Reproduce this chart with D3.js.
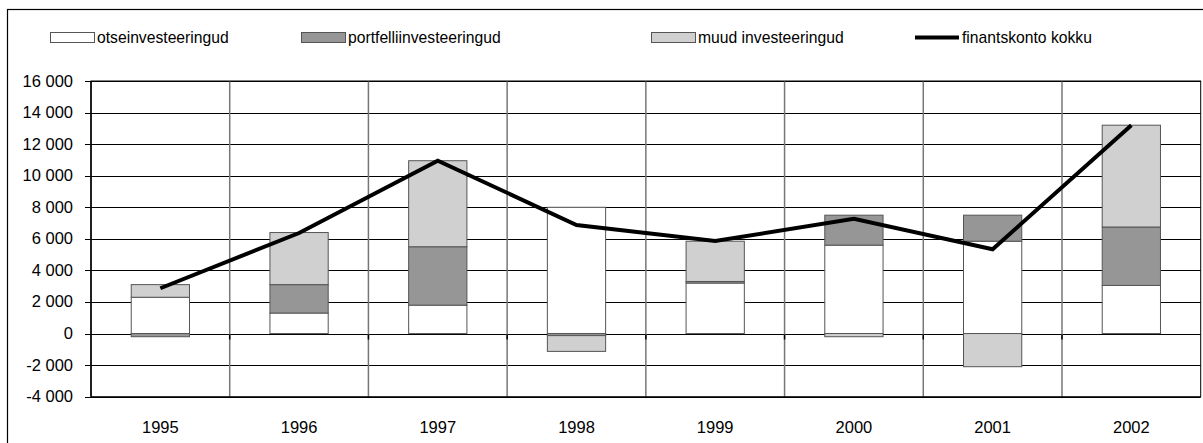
<!DOCTYPE html>
<html>
<head>
<meta charset="utf-8">
<script src="https://cdn.jsdelivr.net/npm/d3@7"></script>
<style>
body { margin: 0; background: #fff; }
text { font-family: Arial, "Liberation Sans", sans-serif; fill: #000; }
</style>
</head>
<body>
<svg></svg>
<script>
let years = ["1995", "1996", "1997", "1998", "1999", "2000", "2001", "2002"]
let otse = [2300, 1300, 1800, 8000, 3200, 5600, 5850, 3050]
let portf = [-200, 1800, 3700, -130, 100, 1900, 1650, 3700]
let muud = [800, 3300, 5450, -1000, 2550, -200, -2100, 6450]
let kokku = [2870, 6370, 10950, 6880, 5860, 7270, 5340, 13200]
let yTicks = [-4000, -2000, 0, 2000, 4000, 6000, 8000, 10000, 12000, 14000, 16000]
let names = ["otseinvesteeringud", "portfelliinvesteeringud", "muud investeeringud", "finantskonto kokku"]
let colors = ["#ffffff", "#969696", "#d0d0d0"]

let width = 1203
let height = 443
let plotLeft = 91
let plotRight = 1200.7
let plotTop = 81
let plotBottom = 396.7

let svg = d3.select("svg").attr("width", width).attr("height", height)

let fmt = d3.formatLocale({ decimal: ",", thousands: " ", grouping: [3], currency: ["", ""], minus: "-" }).format(",d")

let xScale = d3.scaleBand().domain(years).range([plotLeft, plotRight])
let yScale = d3.scaleLinear().domain([-4000, 16000]).range([plotBottom, plotTop])

let rows = years.map((y, i) => ({ year: y, otse: otse[i], portf: portf[i], muud: muud[i] }))
let stacked = d3.stack()
  .keys(["otse", "portf", "muud"])
  .offset(d3.stackOffsetDiverging)(rows)

// outer frame
svg.append("rect")
  .attr("x", 7.5).attr("y", 9.5)
  .attr("width", 1220).attr("height", 460)
  .attr("fill", "none").attr("stroke", "#000").attr("stroke-width", 1.2)

// horizontal grid
svg.append("g")
  .selectAll("line")
  .data(yTicks)
  .enter()
  .append("line")
  .attr("x1", plotLeft).attr("x2", plotRight)
  .attr("y1", d => Math.round(yScale(d)) + 0.5)
  .attr("y2", d => Math.round(yScale(d)) + 0.5)
  .attr("stroke", "#000").attr("stroke-width", 1)

// category separators
svg.append("g")
  .selectAll("line")
  .data(years.slice(1))
  .enter()
  .append("line")
  .attr("x1", d => xScale(d)).attr("x2", d => xScale(d))
  .attr("y1", plotTop).attr("y2", plotBottom)
  .attr("stroke", "#777").attr("stroke-width", 1.5)

// bars
let barW = xScale.bandwidth() * 0.42
svg.append("g")
  .selectAll("g")
  .data(stacked)
  .enter()
  .append("g")
  .attr("fill", (d, i) => colors[i])
  .selectAll("rect")
  .data(d => d)
  .enter()
  .append("rect")
  .attr("x", d => xScale(d.data.year) + (xScale.bandwidth() - barW) / 2)
  .attr("width", barW)
  .attr("y", d => yScale(Math.max(d[0], d[1])))
  .attr("height", d => Math.abs(yScale(d[0]) - yScale(d[1])))
  .attr("stroke", "#555").attr("stroke-width", 1)

// axes frame
let y0 = Math.round(yScale(0)) + 0.5
svg.append("g")
  .selectAll("line")
  .data(years.slice(1))
  .enter()
  .append("line")
  .attr("x1", d => xScale(d)).attr("x2", d => xScale(d))
  .attr("y1", y0).attr("y2", y0 + 5)
  .attr("stroke", "#000").attr("stroke-width", 1.5)

svg.append("rect")
  .attr("x", plotLeft).attr("y", plotTop)
  .attr("width", plotRight - plotLeft).attr("height", plotBottom - plotTop)
  .attr("fill", "none").attr("stroke", "#000").attr("stroke-width", 1)

svg.append("line")
  .attr("x1", plotLeft).attr("x2", plotLeft)
  .attr("y1", plotTop).attr("y2", plotBottom)
  .attr("stroke", "#000").attr("stroke-width", 1.5)

// y ticks and labels
svg.append("g")
  .selectAll("line")
  .data(yTicks)
  .enter()
  .append("line")
  .attr("x1", plotLeft - 6).attr("x2", plotLeft)
  .attr("y1", d => Math.round(yScale(d)) + 0.5)
  .attr("y2", d => Math.round(yScale(d)) + 0.5)
  .attr("stroke", "#000")

svg.append("g")
  .selectAll("text")
  .data(yTicks)
  .enter()
  .append("text")
  .attr("x", 73)
  .attr("y", d => yScale(d) + 5.5)
  .attr("text-anchor", "end")
  .style("font-size", "16.5px")
  .text(d => fmt(d))

// x labels
svg.append("g")
  .selectAll("text")
  .data(years)
  .enter()
  .append("text")
  .attr("x", d => xScale(d) + xScale.bandwidth() / 2)
  .attr("y", 433)
  .attr("text-anchor", "middle")
  .style("font-size", "16.5px")
  .text(d => d)

// total line
let line = d3.line()
  .x((d, i) => xScale(years[i]) + xScale.bandwidth() / 2)
  .y(d => yScale(d))
svg.append("path")
  .datum(kokku)
  .attr("d", line)
  .attr("fill", "none")
  .attr("stroke", "#000")
  .attr("stroke-width", 4)

// legend
let legendX = [50, 301, 651, 915]
let legend = svg.append("g")
names.forEach((n, i) => {
  if (i < 3) {
    legend.append("rect")
      .attr("x", legendX[i] + 0.5).attr("y", 32.5)
      .attr("width", 44).attr("height", 10)
      .attr("fill", colors[i])
      .attr("stroke", "#555")
  } else {
    legend.append("line")
      .attr("x1", legendX[i]).attr("x2", legendX[i] + 44)
      .attr("y1", 37.5).attr("y2", 37.5)
      .attr("stroke", "#000").attr("stroke-width", 4)
  }
  legend.append("text")
    .attr("x", legendX[i] + 47)
    .attr("y", 43)
    .style("font-size", "15.7px")
    .text(n)
})
</script>
</body>
</html>
